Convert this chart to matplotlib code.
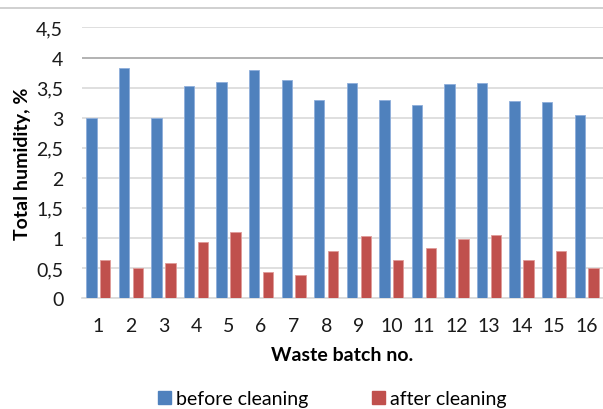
import numpy as np
import matplotlib
matplotlib.use("Agg")
from matplotlib import pyplot as plt
from matplotlib.lines import Line2D
from matplotlib.patches import Patch

plt.rcParams['font.family'] = ['Lato', 'DejaVu Sans']

batches = [str(i) for i in range(1, 17)]
before = [3.00, 3.83, 3.00, 3.52, 3.59, 3.80, 3.62, 3.30,
          3.57, 3.29, 3.21, 3.56, 3.57, 3.27, 3.26, 3.05]
after = [0.63, 0.50, 0.58, 0.93, 1.09, 0.44, 0.39, 0.79,
         1.03, 0.64, 0.83, 0.98, 1.05, 0.63, 0.79, 0.50]
yticks = [0, 0.5, 1, 1.5, 2, 2.5, 3, 3.5, 4, 4.5]
ytick_labels = ["0", "0,5", "1", "1,5", "2", "2,5", "3", "3,5", "4", "4,5"]

blue = "#4F81BD"
red = "#C0504D"

fig = plt.figure(figsize=(6.03, 4.10), dpi=100)
ax = fig.add_axes([0.136, 0.2707, 0.864, 0.6598])

x = np.arange(1, len(batches) + 1)
w = 0.32
ax.bar(x - 0.213, before, w, color=blue, edgecolor="#8eaedb", linewidth=0.6, zorder=3)
ax.bar(x + 0.213, after, w, color=red, edgecolor="#e09a98", linewidth=0.6, zorder=3)

ax.set_xlim(0.5, 16.5)
ax.set_ylim(0, 4.5)
ax.set_yticks(yticks)
ax.set_yticklabels(ytick_labels)
ax.set_xticks(x)
ax.set_xticklabels(batches)
ax.tick_params(axis='y', length=0, pad=13.5, labelsize=14, colors="#1a1a1a")
ax.tick_params(axis='x', length=0, pad=14, labelsize=14, colors="#1a1a1a")

ax.grid(axis='y', color="#d9d9d9", linewidth=1.2, zorder=0)
ax.get_ygridlines()[8].set_color("#a6a6a6")
for s in ['top', 'right', 'left']:
    ax.spines[s].set_visible(False)
ax.spines['bottom'].set_color("#d9d9d9")
ax.spines['bottom'].set_linewidth(1.2)

ax.set_ylabel("Total humidity, %", fontsize=14, fontweight='bold', labelpad=4)
ax.set_xlabel("Waste batch no.", fontsize=14, fontweight='bold', labelpad=8)

# chart border line at top
fig.add_artist(Line2D([0, 1], [1 - 9 / 410, 1 - 9 / 410], color="#c8c8c8", linewidth=1.2,
                      transform=fig.transFigure))

handles = [Patch(color=blue, label="before cleaning"), Patch(color=red, label="after cleaning")]
fig.legend(handles=handles, loc='center', bbox_to_anchor=(332 / 603, 1 - 400 / 410), ncol=2,
           frameon=False, fontsize=14, handlelength=0.67, handleheight=0.67,
           handletextpad=0.25, columnspacing=3.3, borderpad=0)

fig.savefig("out.png", dpi=100)
